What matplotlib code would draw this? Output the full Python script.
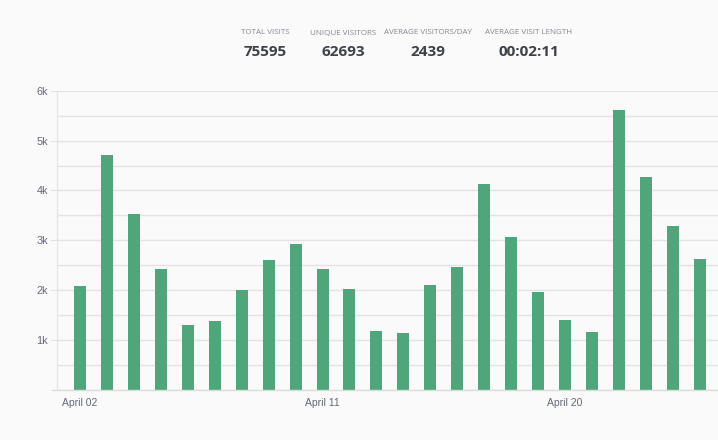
import matplotlib.pyplot as plt
from matplotlib.ticker import MultipleLocator

# daily visits, April 02 .. April 25
days = ["April %02d" % d for d in range(2, 26)]
visits = [2080, 4720, 3520, 2420, 1300, 1380, 2000, 2600, 2920, 2420,
          2020, 1180, 1140, 2100, 2460, 4120, 3060, 1960, 1400, 1160,
          5620, 4270, 3280, 2620]
label_days = ["April 02", "April 11", "April 20"]

stat_names = ["TOTAL VISITS", "UNIQUE VISITORS", "AVERAGE VISITORS/DAY", "AVERAGE VISIT LENGTH"]
stat_values = ["75595", "62693", "2439", "00:02:11"]
stat_x = [265, 343, 428, 529]   # pixel centres of the header columns

bg = "#fafafa"
green = "#4fa67a"
grid = "#e3e3e3"

fig = plt.figure(figsize=(7.18, 4.4), dpi=100, facecolor=bg)
ax = fig.add_axes([57 / 718, 50 / 440, 1 - 57 / 718, 299.3 / 440])
ax.set_facecolor(bg)

x = list(range(len(days)))
ax.bar(x, visits, width=0.445, color=green, zorder=2)

ax.set_ylim(0, 6000)
ax.set_xlim(-0.85, 23.67)
ax.yaxis.set_major_locator(MultipleLocator(1000))
ax.yaxis.set_minor_locator(MultipleLocator(500))
ax.set_yticks([1000, 2000, 3000, 4000, 5000, 6000])
ax.set_yticklabels(["1k", "2k", "3k", "4k", "5k", "6k"])
ax.grid(axis="y", which="both", color=grid, linewidth=1, zorder=0)

ax.set_xticks([days.index(d) for d in label_days])
ax.set_xticklabels(label_days)

for s in ["top", "right", "bottom"]:
    ax.spines[s].set_visible(False)
ax.spines["left"].set_color(grid)
ax.axhline(0, xmin=-5 / 661, xmax=1, color="#dcdcdc", linewidth=1, clip_on=False, zorder=3)

ax.tick_params(axis="y", which="major", length=5, color=grid, labelcolor="#626878",
               labelsize=7.8, pad=1.5)
ax.tick_params(axis="y", which="minor", length=0)
ax.tick_params(axis="x", length=0, labelcolor="#626878", labelsize=7.5, pad=6)
for t in ax.get_xticklabels() + ax.get_yticklabels():
    t.set_fontfamily("Liberation Sans")

for sx, name, val in zip(stat_x, stat_names, stat_values):
    fig.text(sx / 718, 1 - 33 / 440, name, ha="center", va="center", fontsize=5.75,
             color="#858892", family="Open Sans")
    fig.text(sx / 718, 1 - 52 / 440, val, ha="center", va="center", fontsize=11,
             color="#3e4148", family="Open Sans", fontweight="bold")

fig.savefig("out.png", dpi=100, facecolor=bg)
